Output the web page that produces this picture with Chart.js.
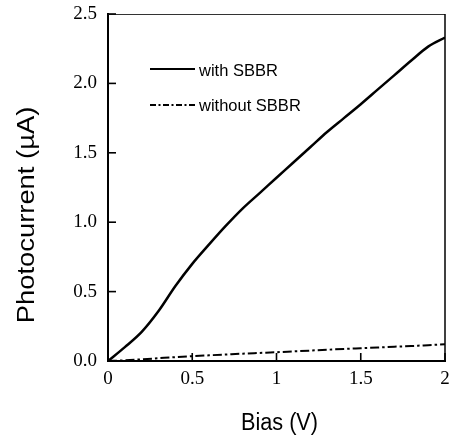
<!DOCTYPE html>
<html>
<head>
<meta charset="utf-8">
<script src="https://cdn.jsdelivr.net/npm/chart.js@4"></script>
<style>
html,body{margin:0;padding:0;background:#fff;}
#wrap{width:450px;height:437px;}
</style>
</head>
<body>
<div id="wrap"><canvas id="c" width="450" height="437"></canvas></div>
<script>
// Data
const biasV = [0, 0.1, 0.2, 0.3, 0.4, 0.5, 0.6, 0.7, 0.8, 0.9, 1.0, 1.1, 1.2, 1.3, 1.4, 1.5, 1.6, 1.7, 1.8, 1.9, 2.0];
const withSBBR = [0, 0.1, 0.21, 0.36, 0.54, 0.70, 0.84, 0.975, 1.10, 1.21, 1.32, 1.43, 1.54, 1.65, 1.75, 1.85, 1.955, 2.06, 2.165, 2.265, 2.33];
const withoutSBBR = [0, 0.005, 0.012, 0.02, 0.028, 0.035, 0.041, 0.047, 0.053, 0.058, 0.063, 0.069, 0.075, 0.081, 0.087, 0.092, 0.097, 0.103, 0.108, 0.114, 0.12];
const xTicks = [0, 0.5, 1, 1.5, 2];
const yTicks = [0, 0.5, 1.0, 1.5, 2.0, 2.5];
const seriesLabels = ['with SBBR', 'without SBBR'];
const xTitle = 'Bias (V)';
const yTitle = 'Photocurrent (\u00b5A)';

const pts = arr => biasV.map((x, i) => ({x: x, y: arr[i]}));

const extras = {
  id: 'extras',
  afterDraw(chart) {
    const ctx = chart.ctx;
    const a = chart.chartArea;
    const xs = chart.scales.x, ys = chart.scales.y;
    ctx.save();
    // top and right frame
    ctx.lineWidth = 1;
    ctx.strokeStyle = '#333';
    ctx.beginPath(); ctx.moveTo(a.left, a.top + 0.5); ctx.lineTo(a.right, a.top + 0.5); ctx.stroke();
    ctx.strokeStyle = '#000';
    ctx.lineWidth = 1.5;
    ctx.beginPath(); ctx.moveTo(a.right, a.top); ctx.lineTo(a.right, a.bottom); ctx.stroke();
    // inward ticks
    ctx.lineWidth = 1.6;
    xTicks.forEach(v => {
      const px = xs.getPixelForValue(v);
      ctx.beginPath(); ctx.moveTo(px, a.bottom); ctx.lineTo(px, a.bottom - 8); ctx.stroke();
    });
    yTicks.forEach(v => {
      const py = ys.getPixelForValue(v);
      ctx.beginPath(); ctx.moveTo(a.left, py); ctx.lineTo(a.left + 8, py); ctx.stroke();
    });
    // legend
    ctx.fillStyle = '#000';
    ctx.font = '16.5px "Liberation Sans", Arial, sans-serif';
    ctx.textAlign = 'left';
    ctx.textBaseline = 'alphabetic';
    ctx.lineWidth = 2.2;
    ctx.setLineDash([]);
    ctx.beginPath(); ctx.moveTo(150, 69); ctx.lineTo(195, 69); ctx.stroke();
    ctx.fillText(seriesLabels[0], 199, 76);
    ctx.lineWidth = 2;
    ctx.setLineDash([6, 2.5, 2, 2.5]);
    ctx.beginPath(); ctx.moveTo(150, 105); ctx.lineTo(195, 105); ctx.stroke();
    ctx.setLineDash([]);
    ctx.fillText(seriesLabels[1], 199, 111);
    // axis titles (slightly stretched vertically like the reference)
    ctx.save();
    ctx.translate((a.left + a.right) / 2 + 3, 430);
    ctx.scale(1, 1.14);
    ctx.font = '21.7px "Liberation Sans", Arial, sans-serif';
    ctx.textAlign = 'center';
    ctx.fillText(xTitle, 0, 0);
    ctx.restore();
    ctx.save();
    ctx.translate(28, 215);
    ctx.rotate(-Math.PI / 2);
    ctx.scale(1.19, 1);
    ctx.font = '23px "Liberation Sans", Arial, sans-serif';
    ctx.textAlign = 'center';
    ctx.textBaseline = 'middle';
    ctx.fillText(yTitle, 0, 0);
    ctx.restore();
    ctx.restore();
  }
};

new Chart(document.getElementById('c'), {
  type: 'scatter',
  data: {
    datasets: [
      {
        label: seriesLabels[0],
        data: pts(withSBBR),
        showLine: true,
        borderColor: '#000',
        borderWidth: 2.5,
        pointRadius: 0,
        cubicInterpolationMode: 'monotone',
        fill: false
      },
      {
        label: seriesLabels[1],
        data: pts(withoutSBBR),
        showLine: true,
        borderColor: '#000',
        borderWidth: 2,
        borderDash: [9, 3, 2.5, 3],
        pointRadius: 0,
        cubicInterpolationMode: 'monotone',
        fill: false
      }
    ]
  },
  options: {
    responsive: false,
    animation: false,
    layout: {padding: {top: 14, right: 5, left: 0, bottom: 0}},
    plugins: {legend: {display: false}, tooltip: {enabled: false}},
    scales: {
      x: {
        type: 'linear',
        min: 0, max: 2,
        afterFit: s => { s.height = 76; s.paddingLeft = 0; s.paddingRight = 0; },
        afterBuildTicks: s => { s.ticks = xTicks.map(v => ({value: v})); },
        grid: {display: false, drawTicks: false},
        border: {display: true, color: '#000', width: 2},
        ticks: {
          padding: 7,
          color: '#000',
          font: {family: '"Liberation Serif", "Times New Roman", serif', size: 19},
          callback: v => String(v)
        },
        title: {display: false}
      },
      y: {
        type: 'linear',
        min: 0, max: 2.5,
        afterFit: s => { s.width = 108; s.paddingTop = 0; s.paddingBottom = 0; },
        afterBuildTicks: s => { s.ticks = yTicks.map(v => ({value: v})); },
        grid: {display: false, drawTicks: false},
        border: {display: true, color: '#000', width: 2},
        ticks: {
          padding: 11,
          color: '#000',
          font: {family: '"Liberation Serif", "Times New Roman", serif', size: 19},
          callback: v => Number(v).toFixed(1)
        },
        title: {display: false}
      }
    }
  },
  plugins: [extras]
});
</script>
</body>
</html>
